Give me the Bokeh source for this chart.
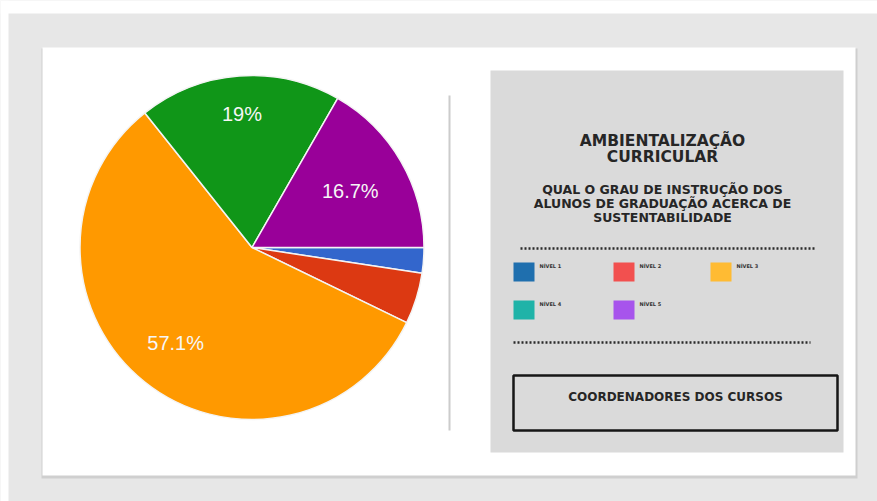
import math
from bokeh.plotting import figure
from bokeh.models import Range1d, ColumnDataSource
from bokeh.core.properties import value
from bokeh.embed import file_html
from bokeh.resources import INLINE

# ---------------- data ----------------
slice_names = ["Nível 1", "Nível 2", "Nível 3", "Nível 4", "Nível 5"]
slice_values = [2.4, 4.8, 57.1, 19.0, 16.7]
slice_labels = ["2.4%", "4.8%", "57.1%", "19%", "16.7%"]
slice_colors = ["#3366cc", "#dc3912", "#ff9900", "#109618", "#990099"]

legend_names = ["NÍVEL 1", "NÍVEL 2", "NÍVEL 3", "NÍVEL 4", "NÍVEL 5"]
legend_colors = ["#1f6fae", "#f2504f", "#ffbb33", "#1fb3a8", "#a754ec"]

title_lines = ["AMBIENTALIZAÇÃO", "CURRICULAR"]
subtitle_lines = ["QUAL O GRAU DE INSTRUÇÃO DOS",
                  "ALUNOS DE GRADUAÇÃO ACERCA DE",
                  "SUSTENTABILIDADE"]
box_text = "COORDENADORES DOS CURSOS"

# ---------------- layout helpers (screen px -> data) ----------------
W, H = 877, 501
def sx(X):
    return X
def sy(Y):
    return H - Y

p = figure(width=W, height=H, x_range=Range1d(0, W), y_range=Range1d(0, H),
           output_backend="svg", toolbar_location=None,
           x_axis_type=None, y_axis_type=None, min_border=0)
p.grid.visible = False
p.outline_line_color = None
p.background_fill_color = "#e7e7e7"
p.border_fill_color = "#e7e7e7"

# top white strip
p.quad(left=sx(0), right=sx(W), top=sy(0), bottom=sy(13), fill_color="white", line_color=None)
p.quad(left=sx(0), right=sx(8), top=sy(0), bottom=sy(H), fill_color="white", line_color=None)

# card shadow + card
p.quad(left=sx(41), right=sx(857), top=sy(48), bottom=sy(478), fill_color="#cfcfcf", line_color=None)
p.quad(left=sx(42), right=sx(855), top=sy(47), bottom=sy(475), fill_color="white", line_color=None)

# ---------------- pie ----------------
cx, cy, R = sx(251.5), sy(247), 172
total = sum(slice_values)
cum = [0.0]
for v in slice_values:
    cum.append(cum[-1] + v / total)
starts = [-cum[i + 1] * 2 * math.pi for i in range(len(slice_values))]
ends = [-cum[i] * 2 * math.pi for i in range(len(slice_values))]
src = ColumnDataSource(dict(start=starts, end=ends, color=slice_colors, name=slice_names))
p.wedge(x=cx, y=cy, radius=R, start_angle="start", end_angle="end",
        fill_color="color", line_color="#f4f4f4", line_width=1.5, source=src)

label_frac = [0.7, 0.7, 0.71, 0.78, 0.66]
lx, ly, lt = [], [], []
for i, v in enumerate(slice_values):
    if v < 10:
        continue
    mid = -(cum[i] + v / total / 2) * 2 * math.pi
    lx.append(cx + R * label_frac[i] * math.cos(mid))
    ly.append(cy + R * label_frac[i] * math.sin(mid))
    lt.append(slice_labels[i])
p.text(x=lx, y=ly, text=lt, text_color="#f6f6f6", text_font=value("Liberation Sans"),
       text_font_size="20px", text_align="center", text_baseline="middle")

# divider line
p.line(x=[sx(449), sx(449)], y=[sy(95), sy(430)], line_color="#cccccc", line_width=2)

# ---------------- right panel ----------------
p.quad(left=sx(490), right=sx(843), top=sy(70), bottom=sy(452), fill_color="#dadada", line_color=None)

panel_cx = sx(662)
font = value("DejaVu Sans")
txt_color = "#262626"
for i, t in enumerate(title_lines):
    p.text(x=[panel_cx], y=[sy(140 + 16 * i)], text=[t], text_font=font, text_font_style="bold",
           text_font_size="15.5px", text_color=txt_color, text_align="center", text_baseline="middle")
for i, t in enumerate(subtitle_lines):
    p.text(x=[panel_cx], y=[sy(189 + 14 * i)], text=[t], text_font=font, text_font_style="bold",
           text_font_size="12.5px", text_color=txt_color, text_align="center", text_baseline="middle")

# dotted separators
p.line(x=[sx(520), sx(815)], y=[sy(248), sy(248)], line_color="#2a2a2a", line_width=2.5, line_dash="2 2")
p.line(x=[sx(513), sx(810)], y=[sy(342), sy(342)], line_color="#2a2a2a", line_width=2.5, line_dash="2 2")

# legend grid
col_x = [513, 613, 710]
row_y = [262, 300]
for i, (n, c) in enumerate(zip(legend_names, legend_colors)):
    X0 = col_x[i % 3]
    Y0 = row_y[i // 3]
    p.quad(left=sx(X0), right=sx(X0 + 21), top=sy(Y0), bottom=sy(Y0 + 19), fill_color=c, line_color=None)
    p.text(x=[sx(X0 + 26)], y=[sy(Y0 + 3)], text=[n], text_font=font, text_font_style="bold",
           text_font_size="5px", text_color="#333333", text_align="left", text_baseline="middle")

# bordered box
p.quad(left=sx(513), right=sx(837), top=sy(375), bottom=sy(430), fill_color=None,
       line_color="#161616", line_width=2.5)
p.text(x=[sx(675)], y=[sy(396)], text=[box_text], text_font=font, text_font_style="bold",
       text_font_size="12px", text_color=txt_color, text_align="center", text_baseline="middle")

open("out.html", "w").write(file_html(p, INLINE))
